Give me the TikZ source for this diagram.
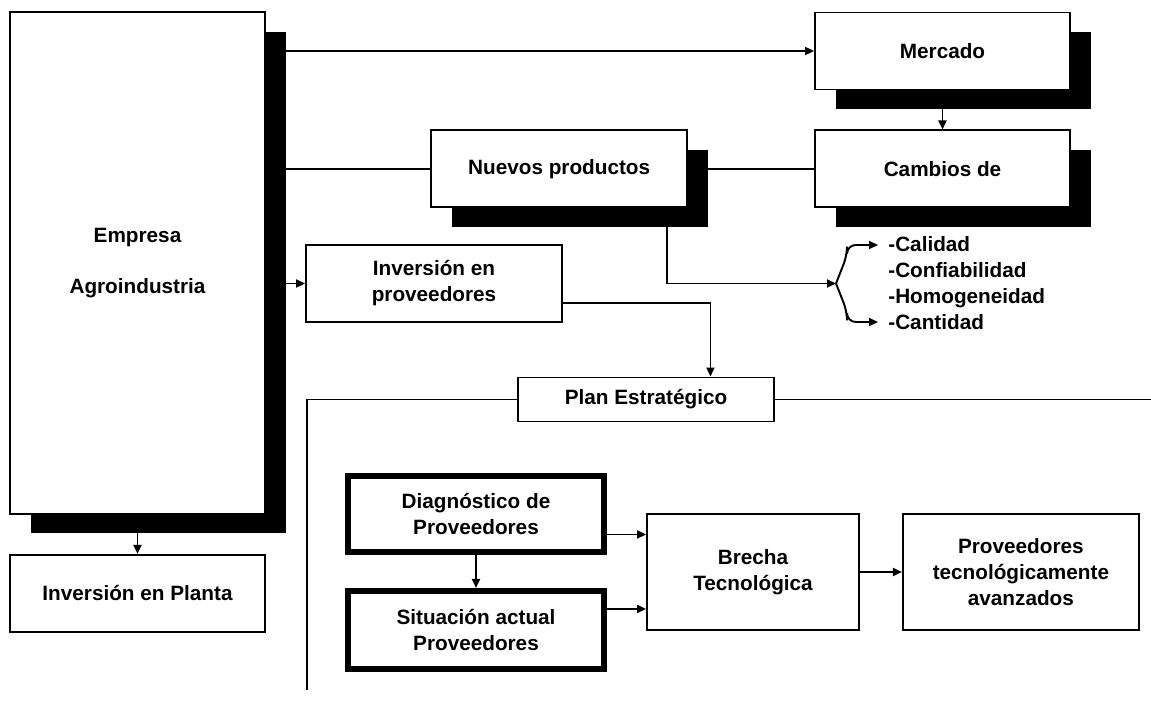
\documentclass[tikz,border=0pt]{standalone}
\usepackage{fontspec}
\setmainfont{Liberation Sans}
\usetikzlibrary{arrows.meta,positioning,shadows,calc}

\begin{document}
\begin{tikzpicture}[
  x=0.02cm, y=-0.02cm,
  txt/.style={font=\fontsize{11.8}{14.8}\selectfont\bfseries},
  box/.style={txt,draw,line width=1.1pt,fill=white,align=center,minimum width=5.12cm,minimum height=1.54cm,inner sep=2pt},
  shbox/.style={box,drop shadow={shadow xshift=0.42cm,shadow yshift=-0.39cm,fill=black,opacity=1}},
  thk/.style={box,line width=3.4pt},
  arr/.style={-{Triangle[length=1.8mm,width=1.6mm]},line width=1.1pt},
  lnk/.style={line width=1.1pt}
]
\useasboundingbox (0,0) rectangle (1151,702);
\node[shbox,minimum width=5.1cm,minimum height=10.04cm] (emp) at (137.5,263) {Empresa\\[14pt]Agroindustria};
\node[box,minimum width=5.1cm,below=0.78cm of emp] (planta) {Inversión en Planta};
\node[shbox,minimum width=5.1cm] (mer) at (942.5,51) {Mercado};
\node[shbox,minimum width=5.1cm,below=0.78cm of mer] (cam) {Cambios de};
\node[shbox,left=2.52cm of cam] (nue) {Nuevos productos};
\node[box] (inv) at (434,283.5) {Inversión en\\proveedores};
\node[box,minimum height=0.88cm] (plan) at (646,399.5) {Plan Estratégico};
\node[thk,minimum height=1.52cm] (diag) at (476,514) {Diagnóstico de\\Proveedores};
\node[thk,minimum height=1.56cm,below=0.66cm of diag] (sit) {Situación actual\\Proveedores};
\node[box,minimum width=4.24cm,minimum height=2.32cm] (bre) at (753,572) {Brecha\\Tecnológica};
\node[box,minimum width=4.72cm,minimum height=2.32cm,right=0.84cm of bre] (avz) {Proveedores\\tecnológicamente\\avanzados};
\node[txt,anchor=west,align=left,inner sep=0pt] (lst) at (888,283.5) {-Calidad\\-Confiabilidad\\-Homogeneidad\\-Cantidad};
\coordinate (br) at (836,283.5);
\coordinate (cal) at (878,245);
\coordinate (can) at (878,322);
\coordinate (fl) at (307,690);
\coordinate (fr) at (1151,399.5);
\draw[arr] (emp.east |- mer.west) -- (mer.west);
\draw[lnk] (emp.east |- nue.west) -- (nue.west);
\draw[lnk] (nue.east) -- (cam.west);
\draw[arr] (emp.east |- inv.west) -- (inv.west);
\draw[arr] (emp.south) -- (planta.north);
\draw[arr] (mer.south) -- (cam.north);
\draw[arr] ($(nue.south west)!0.92!(nue.south east)$) |- (br);
\draw[arr,rounded corners=5pt] (br) -- ++(11,-28) |- (cal);
\draw[arr,rounded corners=5pt] (br) -- ++(11,28) |- (can);
\draw[arr] ($(inv.east)!0.5!(inv.south east)$) -| ($(plan.north)!0.5!(plan.north east)$);
\draw[lnk] (plan.west) -| (fl);
\draw[lnk] (plan.east) -- (fr);
\draw[arr] (diag.south) -- (sit.north);
\draw[arr] ($(diag.east)!0.5!(diag.south east)$) coordinate (d1) -- (d1 -| bre.west);
\draw[arr] ($(sit.east)!0.5!(sit.north east)$) coordinate (s1) -- (s1 -| bre.west);
\draw[arr] (bre.east) -- (avz.west);
\end{tikzpicture}
\end{document}
